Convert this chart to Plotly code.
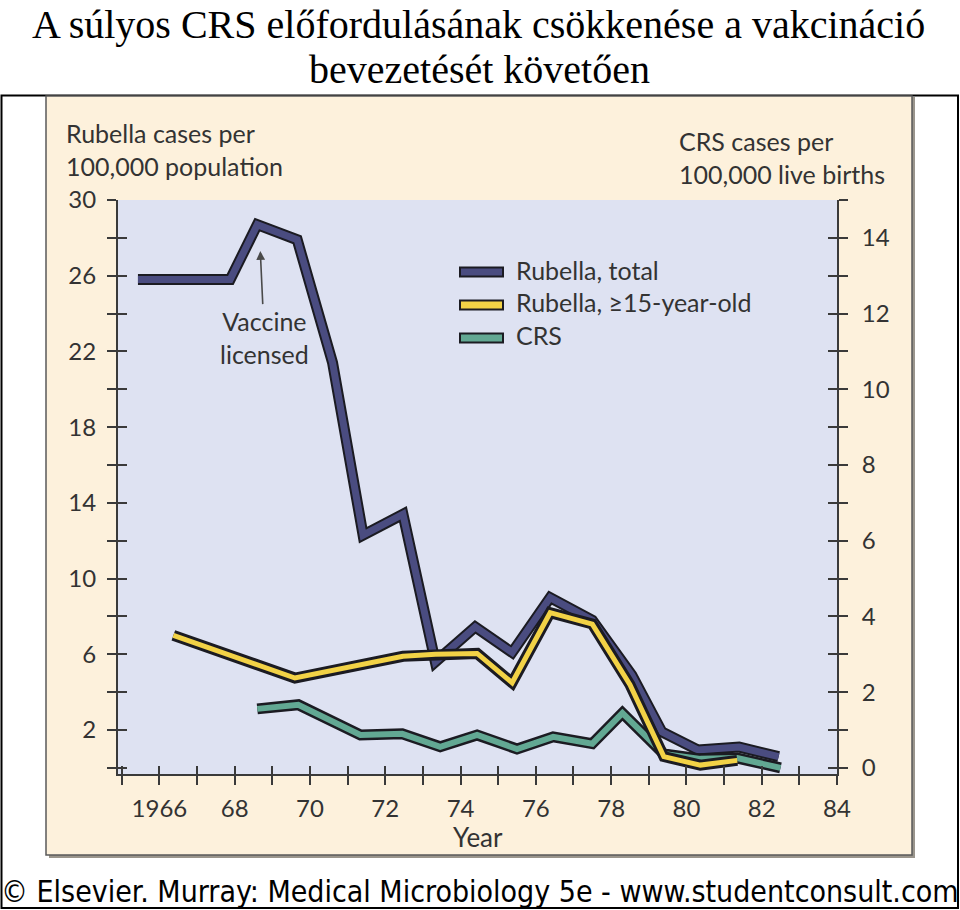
import plotly.graph_objects as go

# ---------------- data ----------------
total_years = [1965.43, 1967.88, 1968.6, 1969.66, 1970.6, 1971.41, 1972.47, 1973.33,
               1974.39, 1975.37, 1976.38, 1977.5, 1978.55, 1979.35, 1980.3, 1981.4, 1982.45]
total_vals = [25.8, 25.8, 28.7, 27.9, 21.4, 12.3, 13.4, 5.6,
              7.45, 6.1, 9.0, 7.8, 4.9, 1.9, 0.95, 1.1, 0.6]

adult_years = [1966.37, 1969.6, 1972.47, 1973.33, 1974.44, 1975.37, 1976.38, 1977.5,
               1978.5, 1979.4, 1980.37, 1981.35]
adult_vals = [7.0, 4.75, 5.9, 6.0, 6.05, 4.5, 8.2, 7.6, 4.4, 0.6, 0.15, 0.4]

crs_years = [1968.6, 1969.69, 1971.34, 1972.45, 1973.46, 1974.44, 1975.5, 1976.46,
             1977.5, 1978.3, 1979.4, 1980.37, 1981.35, 1982.5]
crs_vals = [1.56, 1.67, 0.87, 0.9, 0.56, 0.87, 0.5, 0.82, 0.64, 1.45, 0.37, 0.24, 0.26, 0.0]

x_tick_years = list(range(1965, 1985))
x_tick_labels = ["", "1966", "", "68", "", "70", "", "72", "", "74", "", "76", "", "78",
                 "", "80", "", "82", "", "84"]
left_tick_vals = list(range(0, 31, 2))
left_tick_labels = ["", "2", "", "6", "", "10", "", "14", "", "18", "", "22", "", "26", "", "30"]
right_tick_vals = list(range(0, 16))
right_tick_labels = [str(v) if (v % 2 == 0 and v <= 14) else "" for v in right_tick_vals]

series_names = ["Rubella, total", "Rubella, \u226515-year-old", "CRS"]

# ---------------- styling ----------------
PURPLE = "#4a4c80"
YELLOW = "#f2d246"
TEAL = "#62a893"
OUTLINE = "#1b1b22"
TXT = "#333333"
FONT = "Lato, 'Open Sans', sans-serif"
PLOT_BG = "#dee2f2"
CREAM = "#fdf1dc"

L, R, T, B = 118, 837, 200, 774
W, H = R - L, B - T


def pxx(v):
    return (v - L) / W


def pxy(v):
    return (B - v) / H


XR = [1964.9, 1984.0]
YR = [-0.32, 30]
Y2R = [-0.16, 15]

fig = go.Figure()


def add_line(x, y, color, inner_w, yaxis, name):
    fig.add_trace(go.Scatter(x=x, y=y, mode="lines", yaxis=yaxis, showlegend=False,
                             hoverinfo="skip", line=dict(color=OUTLINE, width=11)))
    fig.add_trace(go.Scatter(x=x, y=y, mode="lines", yaxis=yaxis, showlegend=False,
                             name=name, line=dict(color=color, width=inner_w)))


add_line(total_years, total_vals, PURPLE, 7, "y", series_names[0])
add_line(crs_years, crs_vals, TEAL, 6, "y2", series_names[2])
add_line(adult_years, adult_vals, YELLOW, 5, "y3", series_names[1])

# dummy traces to realise the inside-tick overlay axes
fig.add_trace(go.Scatter(x=[], y=[], xaxis="x2", yaxis="y4", showlegend=False))
fig.add_trace(go.Scatter(x=[], y=[], xaxis="x", yaxis="y5", showlegend=False))

tickfont = dict(family=FONT, size=24, color=TXT)
axis_common = dict(showgrid=False, zeroline=False, tickcolor="#3a3a3a", tickwidth=2)

fig.update_layout(
    width=960, height=910,
    margin=dict(l=L, r=960 - R, t=T, b=910 - B),
    paper_bgcolor="white",
    plot_bgcolor=PLOT_BG,
    showlegend=False,
    xaxis=dict(range=XR, tickvals=x_tick_years, ticktext=x_tick_labels, ticks="outside",
               ticklen=9, showline=True, linecolor="#3a3a3a", linewidth=2,
               tickfont=tickfont, ticklabelstandoff=3, **axis_common),
    xaxis2=dict(range=XR, overlaying="x", anchor="y4", tickvals=x_tick_years, ticks="inside",
                ticklen=8, showticklabels=False, showline=False, **axis_common),
    yaxis=dict(range=YR, tickvals=left_tick_vals, ticktext=left_tick_labels, ticks="outside",
               ticklen=9, showline=True, linecolor="#3a3a3a", linewidth=2,
               tickfont=tickfont, ticklabelstandoff=6, **axis_common),
    yaxis2=dict(range=Y2R, overlaying="y", side="right", anchor="x", tickvals=right_tick_vals,
                ticktext=right_tick_labels, ticks="outside", ticklen=9, showline=True,
                linecolor="#3a3a3a", linewidth=2, tickfont=tickfont, ticklabelstandoff=9,
                **axis_common),
    yaxis3=dict(range=YR, overlaying="y", visible=False),
    yaxis4=dict(range=YR, overlaying="y", side="left", anchor="x2", tickvals=left_tick_vals,
                ticks="inside", ticklen=9, showticklabels=False, showline=False, **axis_common),
    yaxis5=dict(range=Y2R, overlaying="y", side="right", anchor="x", tickvals=right_tick_vals,
                ticks="inside", ticklen=9, showticklabels=False, showline=False, **axis_common),
)

shapes = []
# outer frame
shapes.append(dict(type="rect", xref="paper", yref="paper", layer="below",
                   x0=pxx(1.5), x1=pxx(958), y0=pxy(908), y1=pxy(95.5),
                   line=dict(color="black", width=2), fillcolor="white"))
# cream panel shadow + panel
shapes.append(dict(type="rect", xref="paper", yref="paper", layer="below",
                   x0=pxx(49), x1=pxx(915), y0=pxy(858), y1=pxy(97),
                   line=dict(width=0), fillcolor="#9a958c"))
shapes.append(dict(type="rect", xref="paper", yref="paper", layer="below",
                   x0=pxx(46), x1=pxx(912), y0=pxy(855), y1=pxy(96),
                   line=dict(color="#5a5a5a", width=1.5), fillcolor=CREAM))
# plot area background
shapes.append(dict(type="rect", xref="paper", yref="paper", layer="below",
                   x0=0, x1=1, y0=0, y1=1, line=dict(width=0), fillcolor=PLOT_BG))
# legend swatches
leg_y = [272, 305, 338]
leg_cols = [PURPLE, YELLOW, TEAL]
for yy, cc in zip(leg_y, leg_cols):
    shapes.append(dict(type="rect", xref="paper", yref="paper",
                       x0=pxx(460), x1=pxx(503), y0=pxy(yy + 4.5), y1=pxy(yy - 4.5),
                       line=dict(color=OUTLINE, width=2), fillcolor=cc))
fig.update_layout(shapes=shapes)

ann = []
TITLE_FONT = dict(family="'Liberation Serif', 'Times New Roman', serif", size=40, color="black")
# title (two lines)
ann.append(dict(text="A súlyos CRS előfordulásának csökkenése a vakcináció",
                xref="paper", yref="paper", x=pxx(478), y=pxy(24), xanchor="center",
                yanchor="middle", showarrow=False, font=TITLE_FONT))
ann.append(dict(text="bevezetését követően",
                xref="paper", yref="paper", x=pxx(479), y=pxy(69), xanchor="center",
                yanchor="middle", showarrow=False, font=TITLE_FONT))
# axis titles
ann.append(dict(text="Rubella cases per<br>100,000 population", xref="paper", yref="paper",
                x=pxx(64), y=pxy(116), xanchor="left", yanchor="top", showarrow=False, align="left",
                font=dict(family=FONT, size=25, color=TXT)))
ann.append(dict(text="CRS cases per<br>100,000 live births", xref="paper", yref="paper",
                x=pxx(677), y=pxy(124), xanchor="left", yanchor="top", showarrow=False, align="left",
                font=dict(family=FONT, size=25, color=TXT)))
ann.append(dict(text="Year", xref="paper", yref="paper", x=pxx(478), y=pxy(837),
                xanchor="center", yanchor="middle", showarrow=False,
                font=dict(family=FONT, size=26, color=TXT)))
# legend text
for yy, nm in zip([270, 302, 335], series_names):
    ann.append(dict(text=nm, xref="paper", yref="paper", x=pxx(514), y=pxy(yy),
                    xanchor="left", yanchor="middle", showarrow=False,
                    font=dict(family=FONT, size=25, color=TXT)))
# vaccine annotation
ann.append(dict(text="Vaccine<br>licensed", x=1968.68, y=27.3, xref="x", yref="y",
                showarrow=True, ax=4, ay=86, arrowhead=2, arrowsize=1.1, arrowwidth=1.6,
                arrowcolor="#4a4a4a", font=dict(family=FONT, size=25, color=TXT), align="center"))
# copyright
ann.append(dict(text="© Elsevier. Murray: Medical Microbiology 5e - www.studentconsult.com",
                xref="paper", yref="paper", x=pxx(480), y=pxy(891), xanchor="center",
                yanchor="middle", showarrow=False,
                font=dict(family="'Liberation Sans Narrow', 'DejaVu Sans Condensed', 'DejaVu Sans', sans-serif",
                          size=30, color="black")))
fig.update_layout(annotations=ann)

fig.write_html("out.html")
